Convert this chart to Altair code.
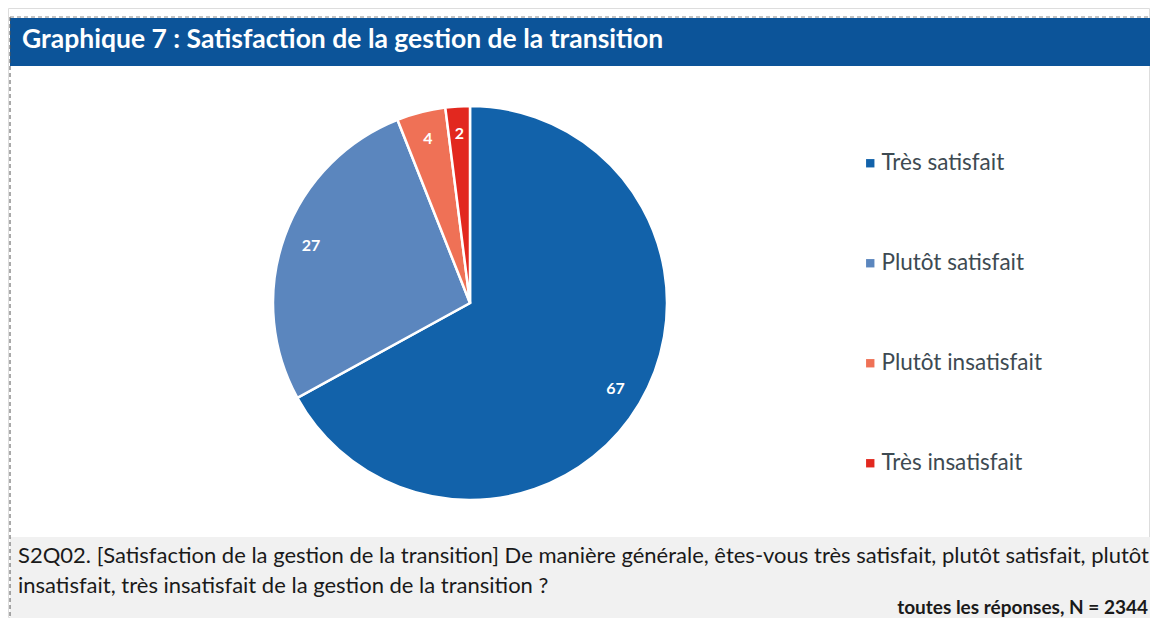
import altair as alt
import pandas as pd

categories = ["Très satisfait", "Plutôt satisfait", "Plutôt insatisfait", "Très insatisfait"]
values = [67, 27, 4, 2]
colors = ["#1262aa", "#5b86be", "#ef7156", "#e2281f"]

title_text = "Graphique 7 : Satisfaction de la gestion de la transition"
question_line1 = "S2Q02. [Satisfaction de la gestion de la transition] De manière générale, êtes-vous très satisfait, plutôt satisfait, plutôt"
question_line2 = "insatisfait, très insatisfait de la gestion de la transition ?"
base_text = "toutes les réponses, N = 2344"

FONT = "Lato"
W, H = 1142, 610

df = pd.DataFrame({"cat": categories, "val": values, "idx": list(range(len(categories)))})

color_scale = alt.Scale(domain=categories, range=colors)

one = pd.DataFrame({"a": [0]})

header = alt.Chart(one).mark_rect(color="#0c5499").encode(
    x=alt.value(2), x2=alt.value(W), y=alt.value(10), y2=alt.value(58)
)
header_text = alt.Chart(one).mark_text(
    text=title_text, font=FONT, fontSize=26.5, fontWeight="bold", color="white",
    align="left", baseline="middle"
).encode(x=alt.value(14), y=alt.value(32))

footer = alt.Chart(one).mark_rect(color="#f1f1f1").encode(
    x=alt.value(2), x2=alt.value(W), y=alt.value(529), y2=alt.value(H)
)
left_border = alt.Chart(one).mark_rule(color="#555555", strokeDash=[4, 3], strokeWidth=1).encode(
    x=alt.value(2), y=alt.value(9), y2=alt.value(H)
)
top_border = alt.Chart(one).mark_rule(color="#888888", strokeDash=[4, 3], strokeWidth=1).encode(
    x=alt.value(2), x2=alt.value(W), y=alt.value(9)
)

q1 = alt.Chart(one).mark_text(
    text=question_line1, font=FONT, fontSize=22, color="#1a1a1a", align="left", baseline="middle"
).encode(x=alt.value(10), y=alt.value(548))
q2 = alt.Chart(one).mark_text(
    text=question_line2, font=FONT, fontSize=22, color="#1a1a1a", align="left", baseline="middle"
).encode(x=alt.value(10), y=alt.value(578))
q3 = alt.Chart(one).mark_text(
    text=base_text, font=FONT, fontSize=19, fontWeight="bold", color="#1a1a1a", align="right", baseline="middle"
).encode(x=alt.value(1140), y=alt.value(600))

pie_base = alt.Chart(df).encode(
    theta=alt.Theta("val:Q", stack=True),
    order=alt.Order("idx:Q", sort="ascending"),
    color=alt.Color(
        "cat:N", scale=color_scale,
        legend=alt.Legend(
            title=None, orient="none", legendX=851, legendY=144,
            symbolType="square", symbolSize=70, symbolStrokeWidth=0,
            labelFont=FONT, labelFontSize=22.5, labelColor="#3d4a52", labelLimit=400,
            rowPadding=77, labelOffset=0, padding=0,
        ),
    ),
)

arcs = pie_base.mark_arc(outerRadius=197, stroke="white", strokeWidth=2.5).encode(
    x=alt.value(462), y=alt.value(295)
)
labels = pie_base.mark_text(
    radius=169, font=FONT, fontSize=16, fontWeight="bold", color="white"
).encode(
    x=alt.value(462), y=alt.value(295), text=alt.Text("val:Q"), color=alt.value("white")
)

chart = alt.layer(
    header, footer, left_border, top_border, header_text, q1, q2, q3, arcs, labels
).properties(
    width=W, height=H,
    autosize=alt.AutoSizeParams(type="fit", contains="padding"),
    padding=0,
).configure_view(stroke=None).configure(background="white")

chart.save("out.html", embed_options={"renderer": "svg", "actions": False})
